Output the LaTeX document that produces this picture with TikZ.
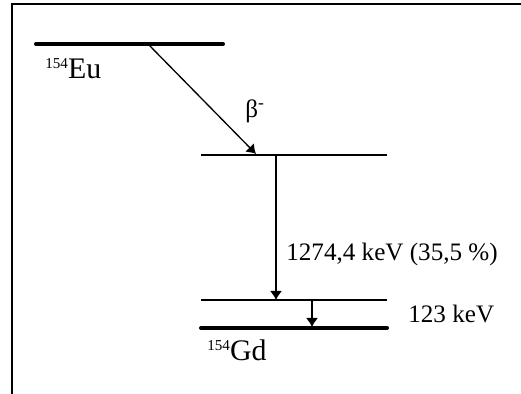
\documentclass[tikz,border=0pt]{standalone}
\usepackage{fontspec}
\setmainfont{Liberation Serif}
\usetikzlibrary{arrows.meta}
\newcommand{\nuklid}[2]{\raisebox{6.1pt}{\fontsize{8.6}{10}\selectfont #1}{\fontsize{17}{20}\selectfont #2}}
\tikzset{
	level/.style={line width=1.1pt},
	ground/.style={line width=2.3pt, line cap=round},
	trans/.style={line width=0.75pt, -{Latex[length=0.18cm, width=0.24cm]}},
	label/.style={inner sep=0pt, anchor=base west}
}
\begin{document}
\begin{tikzpicture}[x=0.02cm, y=-0.02cm, font=\fontsize{14.3}{17}\selectfont]
	\useasboundingbox (0,0) rectangle (521,394);
	% Rahmen
	\draw[line width=1.1pt] (12,394) -- (12,4) -- (521,4);
	
	% Mutterkern (oben)
	\draw[ground] (36,44) -- (223,44);
	\node[label] (eu) at (45,79) {\nuklid{154}{Eu}};
	\coordinate (betastart) at (148,44);
	
	% Niveaus im Tochterkern
	\draw[level] (201,155) -- (387,155);
	\draw[level] (201,300) -- (387,300);
	\draw[ground] (201,328) -- (387,328);
	\node[label] (gd) at (207,361) {\nuklid{154}{Gd}};
	\coordinate (betaend) at (256,154);
	\coordinate (gammaAtop) at (276,155);
	\coordinate (gammaAbot) at (276,300);
	\coordinate (gammaBtop) at (312,300);
	\coordinate (gammaBbot) at (312,327);
	
	% Uebergaenge
	\draw[trans] (betastart) -- (betaend);
	\node[label] (beta) at (245,118) {β\textsuperscript{-}};
	\draw[trans] (gammaAtop) -- (gammaAbot);
	\node[label] (gammaA) at (286,261) {1274,4 keV (35,5 \%)};
	\draw[trans] (gammaBtop) -- (gammaBbot);
	\node[label] (gammaB) at (408,323) {123 keV};
\end{tikzpicture}
\end{document}
